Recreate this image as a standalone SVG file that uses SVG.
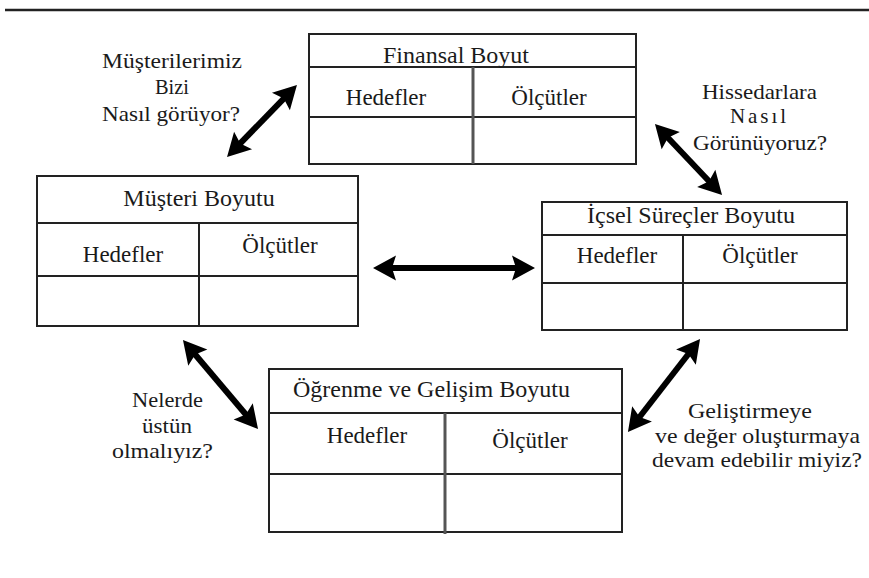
<svg xmlns="http://www.w3.org/2000/svg" width="869" height="578" viewBox="0 0 869 578">
<style>
.box{fill:#fff;stroke:#222;stroke-width:2}
.div{stroke:#222;stroke-width:2;fill:none}
.col{stroke:#555;stroke-width:3;fill:none}
text{font-family:'Liberation Serif','Times New Roman',Times,Tinos,'Noto Serif','DejaVu Serif',serif;fill:#1a1a1a}
.ti{font-size:24px}
.hd{font-size:23px}
.lb{font-size:21px}
.m{text-anchor:middle}
.arr{stroke:#000;stroke-width:6;fill:none;marker-start:url(#head);marker-end:url(#head)}
</style>
<defs>
<marker id="head" markerUnits="userSpaceOnUse" viewBox="0 -13 25 26" markerWidth="25" markerHeight="26" refX="11" refY="0" orient="auto-start-reverse" overflow="visible">
<path d="M0,-12.5 L23,0 L0,12.5 L4,0 Z" fill="#000"/>
</marker>
</defs>
<rect width="869" height="578" fill="#fff"/>
<line x1="5" y1="10" x2="869" y2="10" stroke="#222" stroke-width="2.5"/>

<g id="finansal">
<rect class="box" x="309" y="34" width="327" height="130"/>
<line class="div" x1="309" y1="67" x2="636" y2="67"/>
<line class="div" x1="309" y1="117" x2="636" y2="117"/>
<line class="col" x1="473" y1="67" x2="473" y2="164"/>
<text class="ti m" x="456" y="63">Finansal Boyut</text>
<text class="hd m" x="386" y="105">Hedefler</text>
<text class="hd m" x="549" y="105">Ölçütler</text>
</g>

<g id="musteri">
<rect class="box" x="37" y="176" width="321" height="150"/>
<line class="div" x1="37" y1="223" x2="358" y2="223"/>
<line class="div" x1="37" y1="276" x2="358" y2="276"/>
<line class="div" x1="199" y1="223" x2="199" y2="326"/>
<text class="ti m" x="199" y="206">Müşteri Boyutu</text>
<text class="hd m" x="123" y="262">Hedefler</text>
<text class="hd m" x="280" y="253">Ölçütler</text>
</g>

<g id="icsel">
<rect class="box" x="542" y="202" width="305" height="128"/>
<line class="div" x1="542" y1="235" x2="847" y2="235"/>
<line class="div" x1="542" y1="283" x2="847" y2="283"/>
<line class="div" x1="683" y1="235" x2="683" y2="330"/>
<text class="ti m" x="691" y="223">İçsel Süreçler Boyutu</text>
<text class="hd m" x="617" y="263">Hedefler</text>
<text class="hd m" x="760" y="263">Ölçütler</text>
</g>

<g id="ogrenme">
<rect class="box" x="269" y="369" width="353" height="163"/>
<line class="div" x1="269" y1="413" x2="622" y2="413"/>
<line class="div" x1="269" y1="474" x2="622" y2="474"/>
<line class="col" x1="445" y1="413" x2="445" y2="534"/>
<text class="ti" x="293" y="397" textLength="277" lengthAdjust="spacingAndGlyphs">Öğrenme ve Gelişim Boyutu</text>
<text class="hd m" x="367" y="443">Hedefler</text>
<text class="hd m" x="530" y="448">Ölçütler</text>
</g>

<g id="connectors">
<path class="arr" d="M235.4,148.4 L288.6,93.6"/>
<path class="arr" d="M663.2,132.7 L713.8,186.3"/>
<path class="arr" d="M385,268 L523,268"/>
<path class="arr" d="M190.7,349.2 L250.3,419.8"/>
<path class="arr" d="M692.7,348.5 L635.3,422.5"/>
</g>

<g id="label-musteri">
<text class="lb" x="102" y="68" textLength="140" lengthAdjust="spacingAndGlyphs">Müşterilerimiz</text>
<text class="lb" x="155" y="94" textLength="34" lengthAdjust="spacingAndGlyphs">Bizi</text>
<text class="lb" x="102" y="121" textLength="138" lengthAdjust="spacingAndGlyphs">Nasıl görüyor?</text>
</g>

<g id="label-hissedar">
<text class="lb" x="702" y="99" textLength="115" lengthAdjust="spacingAndGlyphs">Hissedarlara</text>
<text class="lb" x="730" y="123" textLength="56" lengthAdjust="spacing">Nasıl</text>
<text class="lb" x="693" y="150" textLength="134" lengthAdjust="spacingAndGlyphs">Görünüyoruz?</text>
</g>

<g id="label-nelerde">
<text class="lb" x="132" y="407" textLength="71" lengthAdjust="spacingAndGlyphs">Nelerde</text>
<text class="lb" x="142" y="433" textLength="50" lengthAdjust="spacingAndGlyphs">üstün</text>
<text class="lb" x="112" y="458" textLength="101" lengthAdjust="spacingAndGlyphs">olmalıyız?</text>
</g>

<g id="label-gelistirme">
<text class="lb" x="688" y="418" textLength="124" lengthAdjust="spacingAndGlyphs">Geliştirmeye</text>
<text class="lb" x="655" y="443" textLength="205" lengthAdjust="spacingAndGlyphs">ve değer oluşturmaya</text>
<text class="lb" x="652" y="467" textLength="210" lengthAdjust="spacingAndGlyphs">devam edebilir miyiz?</text>
</g>
</svg>
